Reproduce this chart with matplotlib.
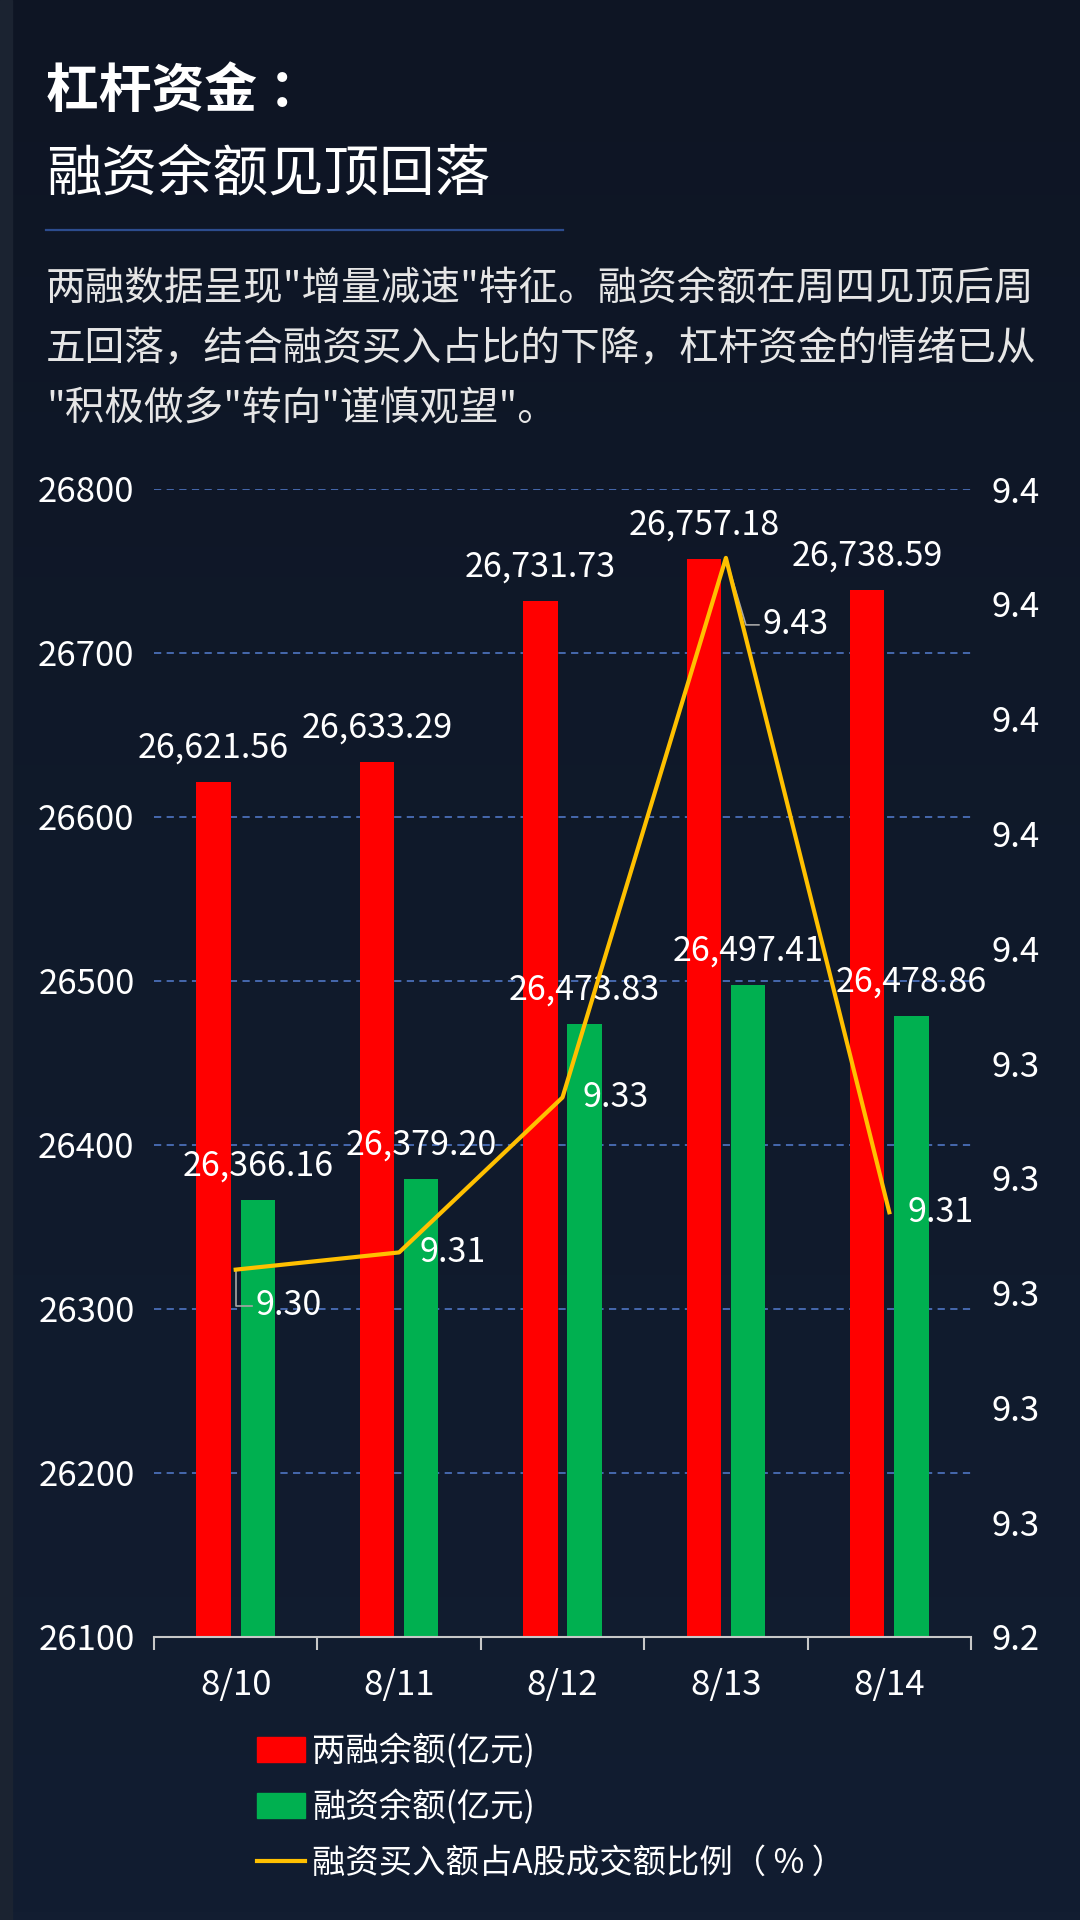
import numpy as np
import matplotlib
matplotlib.use("Agg")
import matplotlib.pyplot as plt
from matplotlib.patches import Patch
from matplotlib.lines import Line2D
from matplotlib.colors import LinearSegmentedColormap

plt.rcParams['font.family'] = ['Noto Sans CJK SC', 'DejaVu Sans']

# data
dates = ['8/10', '8/11', '8/12', '8/13', '8/14']
total_bal = [26621.56, 26633.29, 26731.73, 26757.18, 26738.59]    # 两融余额
margin_bal = [26366.16, 26379.20, 26473.83, 26497.41, 26478.86]   # 融资余额
buy_ratio = [9.304, 9.307, 9.334, 9.428, 9.314]                   # 融资买入占比
ratio_labels = ['9.30', '9.31', '9.33', '9.43', '9.31']

bg = '#0f1727'
W, H = 1080, 1920
fig = plt.figure(figsize=(W / 100, H / 100), dpi=100, facecolor=bg)

# background
bga = fig.add_axes([0, 0, 1, 1], zorder=-10)
grad = np.linspace(0, 1, 256).reshape(-1, 1)
cm = LinearSegmentedColormap.from_list('bg', ['#0e1524', '#101a2b', '#121d31'])
bga.imshow(grad, aspect='auto', cmap=cm, extent=[0, 1, 0, 1])
bga.axvspan(0, 12 / W, color='#1b2331')
bga.set_xlim(0, 1)
bga.set_ylim(0, 1)
bga.axis('off')

# titles
fig.text(46 / W, 1 - 92 / H, '杠杆资金 ：', color='white', fontsize=38, fontweight='bold', va='center')
fig.text(46 / W, 1 - 176 / H, '融资余额见顶回落', color='white', fontsize=40, va='center')
fig.add_artist(Line2D([46 / W, 563 / W], [1 - 230 / H, 1 - 230 / H], color='#2c4c8e', lw=1.6))
para = ['两融数据呈现"增量减速"特征。融资余额在周四见顶后周',
        '五回落，结合融资买入占比的下降，杠杆资金的情绪已从',
        '"积极做多"转向"谨慎观望"。']
for i, line in enumerate(para):
    fig.text(46 / W, 1 - (289 + i * 60) / H, line, color='#e6e6e6', fontsize=28.5, va='center')

# chart
ax = fig.add_axes([154 / W, 1 - 1637 / H, (971 - 154) / W, (1637 - 489) / H])
ax.set_facecolor('none')
x = np.arange(len(dates))
bw = 0.21
off = 0.135
b1 = ax.bar(x - off, total_bal, bw, color='#ff0000', zorder=2)
b2 = ax.bar(x + off, margin_bal, bw, color='#00b050', zorder=2)
ax.set_ylim(26100, 26800)
ax.set_xlim(-0.5, len(dates) - 0.5)
ax.set_yticks(np.arange(26100, 26801, 100))
ax.yaxis.grid(True, color='#4a6fb8', linestyle=(0, (4, 3)), lw=1.3)
ax.set_axisbelow(True)
for s in ['top', 'left', 'right']:
    ax.spines[s].set_visible(False)
ax.spines['bottom'].set_color('#c8c8c8')
ax.spines['bottom'].set_linewidth(1.5)
ax.set_xticks(x)
ax.set_xticklabels(dates)
ax.set_xticks(np.arange(-0.5, len(dates)), minor=True)
ax.tick_params(axis='x', which='major', length=0, pad=22, labelsize=25, labelcolor='white')
ax.tick_params(axis='x', which='minor', length=9, width=1.5, color='#c8c8c8')
ax.tick_params(axis='y', length=0, pad=14, labelsize=25, labelcolor='white')

for bars, vals in [(b1, total_bal), (b2, margin_bal)]:
    for r, v in zip(bars, vals):
        ax.annotate(f'{v:,.2f}', (r.get_x() + r.get_width() / 2, v), xytext=(0, 34),
                    textcoords='offset pixels', ha='center', va='center',
                    color='white', fontsize=24.5, zorder=3)

ax2 = ax.twinx()
ax2.set_ylim(9.24, 9.44)
ax2.set_yticks(np.arange(9.24, 9.441, 0.02))
ax2.yaxis.set_major_formatter(matplotlib.ticker.FormatStrFormatter('%.1f'))
ax2.tick_params(axis='y', length=0, pad=15, labelsize=25, labelcolor='white')
for s in ax2.spines.values():
    s.set_visible(False)
ax2.plot(x, buy_ratio, color='#ffc000', lw=3, zorder=4)

offsets = [(20, -36), (20, 0), (20, 0), (37, -67), (18, 0)]
for i, (v, lab) in enumerate(zip(buy_ratio, ratio_labels)):
    dx, dy = offsets[i]
    ax2.annotate(lab, (i, v), xytext=(dx, dy), textcoords='offset pixels',
                 ha='left', va='center', color='white', fontsize=24.5, zorder=5)

# leader lines
to_px = ax2.transData
inv = ax2.transData.inverted()
p0 = to_px.transform((0, buy_ratio[0]))
pts = inv.transform([p0, p0 + [0, -36], p0 + [16, -36]])
ax2.plot(pts[:, 0], pts[:, 1], color='#a6a6a6', lw=1.2, zorder=3)
p3 = to_px.transform((3, buy_ratio[3]))
pts = inv.transform([p3, p3 + [20, -67], p3 + [33, -67]])
ax2.plot(pts[:, 0], pts[:, 1], color='#a6a6a6', lw=1.2, zorder=3)

handles = [Patch(color='#ff0000'), Patch(color='#00b050'),
           Line2D([], [], color='#ffc000', lw=3)]
labels = ['两融余额(亿元)', '融资余额(亿元)', '融资买入额占A股成交额比例（ % ）']
leg = fig.legend(handles, labels, loc='upper left', bbox_to_anchor=(257 / W, 1 - 1734 / H),
                 frameon=False, fontsize=24, labelcolor='white', handlelength=1.45,
                 handleheight=0.75, handletextpad=0.2, labelspacing=0.62,
                 borderpad=0, borderaxespad=0)

fig.savefig('out.png', dpi=100, facecolor=bg)
